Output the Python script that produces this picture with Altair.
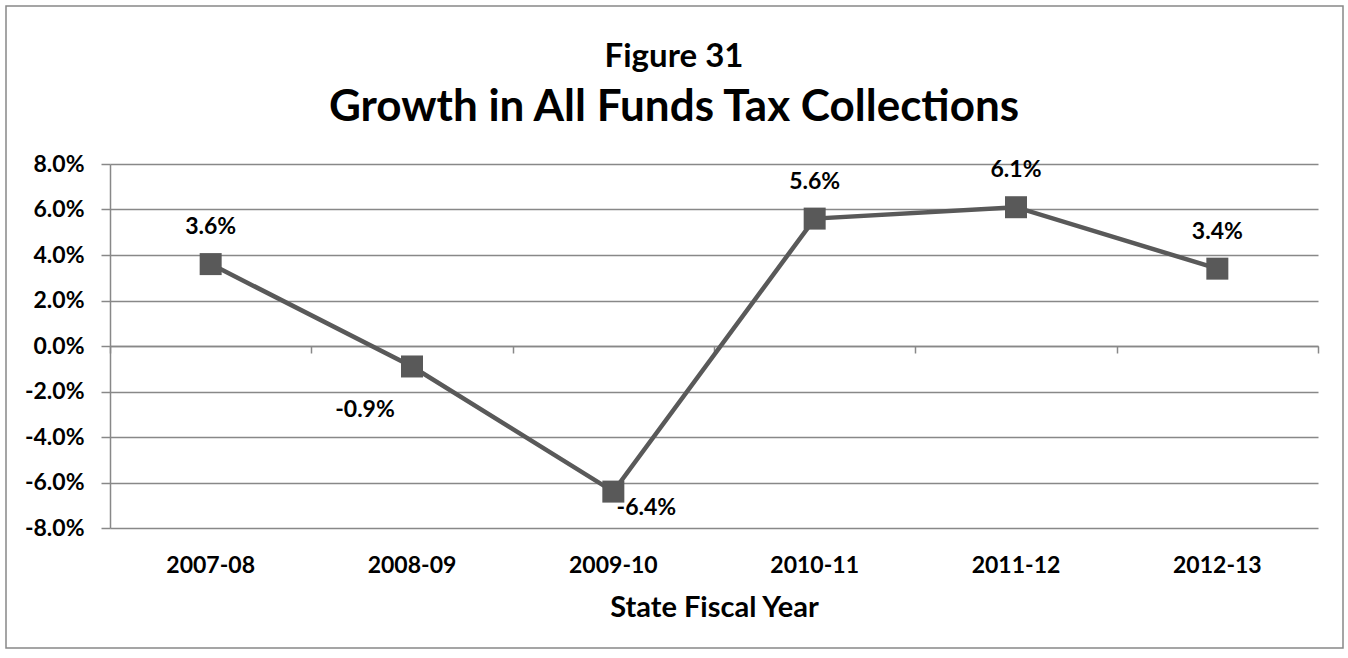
import altair as alt
import pandas as pd

years = ["2007-08", "2008-09", "2009-10", "2010-11", "2011-12", "2012-13"]
growth = [0.036, -0.009, -0.064, 0.056, 0.061, 0.034]
label_pos = ["above", "below-left", "right", "above", "above", "above"]

df = pd.DataFrame({"year": years, "growth": growth, "pos": label_pos})

FONT = "Lato"
GRAY = "#888888"
LINE = "#595959"
LBL = 23

x_labels = alt.X(
    "year:N", sort=years,
    scale=alt.Scale(paddingInner=0, paddingOuter=0),
    axis=alt.Axis(orient="bottom", domain=False, ticks=False, grid=False, labelAngle=0,
                  labelPadding=26, labelFontSize=LBL, labelFont=FONT, labelFontWeight="bold",
                  labelColor="black", title="State Fiscal Year", titleFontSize=29,
                  titleFont=FONT, titleFontWeight="bold", titleColor="black", titlePadding=16),
)
x_ticks = alt.X(
    "year:N", sort=years,
    axis=alt.Axis(orient="bottom", offset=-182, domain=True, domainColor=GRAY, domainWidth=1.5,
                  ticks=True, tickBand="extent", tickSize=7, tickColor=GRAY, tickWidth=1.5,
                  labels=False, title=None, grid=False),
)
x_none = alt.X("year:N", sort=years, axis=None)

y_axis = alt.Axis(values=[-0.08, -0.06, -0.04, -0.02, 0.0, 0.02, 0.04, 0.06, 0.08],
                  labelExpr="replace(format(datum.value, '.1%'), '\u2212', '-')",
                  domain=True, domainColor=GRAY, domainWidth=1.5, ticks=True, tickSize=9,
                  tickColor=GRAY, tickWidth=1.5, grid=True, gridColor=GRAY, gridWidth=1.5,
                  labelFontSize=LBL, labelFont=FONT, labelFontWeight="bold", labelColor="black",
                  labelPadding=17, title=None)
y_enc = alt.Y("growth:Q", scale=alt.Scale(domain=[-0.08, 0.08], nice=False), axis=y_axis)

base = alt.Chart(df).transform_calculate(
    label="replace(format(datum.growth, '.1%'), '\u2212', '-')"
)

line = base.mark_line(color=LINE, strokeWidth=4.5).encode(x=x_labels, y=y_enc)
points = base.mark_square(color=LINE, size=484, opacity=1).encode(x=x_ticks, y=y_enc)

txt_kw = dict(font=FONT, fontSize=LBL, fontWeight="bold", color="black")
lab_above = base.transform_filter(alt.datum.pos == "above").mark_text(dy=-37, **txt_kw).encode(
    x=x_none, y=y_enc, text="label:N")
lab_bl = base.transform_filter(alt.datum.pos == "below-left").mark_text(dx=-47, dy=44, **txt_kw).encode(
    x=x_none, y=y_enc, text="label:N")
lab_r = base.transform_filter(alt.datum.pos == "right").mark_text(dx=33, dy=16, **txt_kw).encode(
    x=x_none, y=y_enc, text="label:N")

border = alt.Chart(pd.DataFrame({"a": [0]})).mark_rect(
    fill="transparent", stroke=GRAY, strokeWidth=1.5, clip=False
).encode(x=alt.value(-104), x2=alt.value(1233), y=alt.value(-158), y2=alt.value(484))

chart = alt.layer(line, points, lab_above, lab_bl, lab_r, border).resolve_axis(
    x="independent"
).properties(
    width=1208, height=364,
    autosize=alt.AutoSizeParams(type="none"),
    padding={"left": 110, "top": 164, "right": 30, "bottom": 130},
    background="white",
    title=alt.TitleParams(
        text="Figure 31", subtitle="Growth in All Funds Tax Collections",
        font=FONT, fontSize=33, fontWeight="bold", color="black",
        subtitleFont=FONT, subtitleFontSize=44, subtitleFontWeight="bold", subtitleColor="black",
        subtitlePadding=12, anchor="middle", frame="group", dx=-40, offset=0, dy=125,
    ),
).configure_view(stroke=None)

chart.save("out.html", embed_options={"renderer": "svg", "actions": False})
